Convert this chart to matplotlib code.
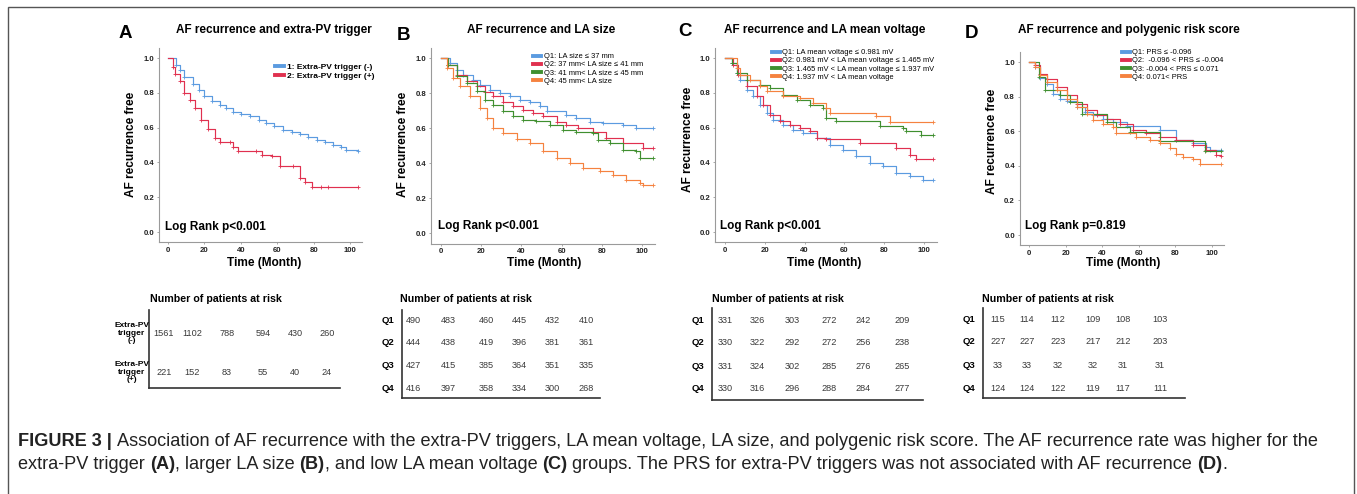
import matplotlib
matplotlib.use("Agg")
import matplotlib.pyplot as plt
from matplotlib import font_manager
from matplotlib.lines import Line2D
from matplotlib.patches import Rectangle

plt.rcParams["font.family"] = "Liberation Sans"

W, H = 1357, 494

# ---------------- data ----------------
# A: extra-PV trigger
a_neg_t = [0, 4.6, 6.4, 9, 13.8, 17, 20, 24, 28.4, 32, 35.8, 40, 45, 50, 54, 58, 63, 68, 72.5, 77, 81.7, 86, 90.8, 95, 98, 104.5]
a_neg_s = [1.0, 0.96, 0.93, 0.89, 0.85, 0.815, 0.78, 0.755, 0.73, 0.71, 0.69, 0.678, 0.665, 0.645, 0.626, 0.607, 0.588, 0.575, 0.563, 0.548, 0.53, 0.515, 0.502, 0.488, 0.473, 0.467]
a_pos_t = [0, 3, 4, 6.5, 9, 12, 14.7, 18.3, 22, 25.7, 28.4, 34, 35.8, 38.5, 48.6, 51.4, 56.9, 61.5, 68.8, 72.5, 75.2, 78.9, 84, 88, 104.5]
a_pos_s = [1.0, 0.95, 0.91, 0.87, 0.80, 0.76, 0.71, 0.645, 0.59, 0.54, 0.52, 0.515, 0.49, 0.467, 0.467, 0.444, 0.435, 0.377, 0.377, 0.31, 0.29, 0.259, 0.259, 0.259, 0.259]

# B: LA size quartiles
b_q1_t = [0, 4.5, 7.8, 11.1, 16.1, 19.4, 24.3, 29.3, 34.3, 39.2, 44.2, 49.2, 52.5, 62.4, 67.4, 74, 80.6, 90.6, 97.2, 105.5]
b_q1_s = [1.0, 0.971, 0.933, 0.905, 0.876, 0.848, 0.819, 0.8, 0.781, 0.762, 0.749, 0.724, 0.695, 0.676, 0.657, 0.634, 0.629, 0.619, 0.6, 0.6]
b_q2_t = [0, 3.6, 7.8, 12.7, 17.7, 21.9, 26, 31, 36, 40.9, 45.9, 50.8, 57.5, 62.4, 68.2, 75.7, 82.3, 90.6, 100.5, 105.5]
b_q2_s = [1.0, 0.962, 0.905, 0.867, 0.838, 0.806, 0.781, 0.749, 0.724, 0.705, 0.686, 0.667, 0.634, 0.619, 0.6, 0.577, 0.543, 0.514, 0.486, 0.486]
b_q3_t = [0, 3.6, 7.8, 12.7, 17.7, 21.9, 26, 31, 36, 40.9, 47.5, 54, 60.8, 67.4, 75.7, 78, 84, 90.6, 97, 98.8, 105.5]
b_q3_s = [1.0, 0.962, 0.9, 0.857, 0.813, 0.762, 0.73, 0.695, 0.667, 0.648, 0.638, 0.619, 0.59, 0.577, 0.571, 0.533, 0.514, 0.476, 0.467, 0.429, 0.429]
b_q4_t = [0, 2.8, 6, 9.4, 14.4, 19.4, 22.7, 26, 31, 37.6, 44.2, 50.8, 57.5, 64, 70.7, 79, 85.6, 92.2, 98.8, 100.5, 105.5]
b_q4_s = [1.0, 0.943, 0.886, 0.838, 0.781, 0.714, 0.657, 0.6, 0.571, 0.539, 0.514, 0.467, 0.429, 0.4, 0.371, 0.352, 0.333, 0.305, 0.286, 0.272, 0.272]

# C: LA mean voltage quartiles
c_q1_t = [0, 3.3, 5.9, 7.5, 10.9, 14.2, 17.6, 20.9, 24.2, 29.3, 34.3, 39.3, 46, 52.7, 59.4, 66, 72.7, 79.4, 86.1, 92.8, 99.5, 104.5]
c_q1_s = [1.0, 0.971, 0.914, 0.875, 0.818, 0.78, 0.732, 0.684, 0.646, 0.617, 0.588, 0.569, 0.54, 0.502, 0.473, 0.435, 0.397, 0.377, 0.339, 0.32, 0.301, 0.301]
c_q2_t = [0, 4.2, 6.7, 10.9, 15.9, 19.2, 22.6, 27.6, 32.6, 37.6, 42.6, 46, 51, 67.7, 86.1, 92.8, 96.2, 104.5]
c_q2_s = [1.0, 0.962, 0.904, 0.837, 0.78, 0.732, 0.674, 0.636, 0.617, 0.598, 0.579, 0.54, 0.536, 0.511, 0.483, 0.444, 0.421, 0.421]
c_q3_t = [0, 3.3, 5.9, 10.9, 17.6, 22.6, 29.3, 36, 42.6, 49.3, 51, 56, 77.8, 89.5, 91.1, 98.7, 104.5]
c_q3_s = [1.0, 0.971, 0.914, 0.875, 0.847, 0.828, 0.789, 0.761, 0.732, 0.713, 0.655, 0.636, 0.607, 0.598, 0.579, 0.556, 0.556]
c_q4_t = [0, 5.9, 7.5, 12.5, 17.6, 20.9, 29.3, 37.6, 44.3, 51, 52.7, 76, 82.8, 104.5]
c_q4_s = [1.0, 0.943, 0.904, 0.875, 0.837, 0.808, 0.78, 0.77, 0.741, 0.713, 0.684, 0.665, 0.632, 0.632]

# D: polygenic risk score quartiles
d_q1_t = [0, 3.3, 6, 9.6, 13.3, 16.9, 20.5, 26, 30.5, 35, 40.5, 46, 53.3, 71.5, 80.5, 89.6, 96.9, 98.7, 105]
d_q1_s = [1.0, 0.971, 0.908, 0.875, 0.817, 0.788, 0.773, 0.74, 0.712, 0.692, 0.673, 0.654, 0.631, 0.606, 0.548, 0.529, 0.51, 0.49, 0.49]
d_q2_t = [0, 3.3, 6, 9.6, 15.1, 20.5, 26, 31.5, 36.9, 42.4, 49.6, 56.9, 64.2, 71.5, 80.5, 89.6, 96.9, 102, 105]
d_q2_s = [1.0, 0.98, 0.933, 0.904, 0.856, 0.808, 0.76, 0.721, 0.692, 0.673, 0.644, 0.606, 0.587, 0.567, 0.548, 0.519, 0.49, 0.462, 0.458]
d_q3_t = [0, 5.5, 8.7, 16.9, 22.4, 28.7, 42.4, 47.8, 55, 71.5, 96, 105]
d_q3_s = [1.0, 0.913, 0.837, 0.808, 0.77, 0.702, 0.654, 0.625, 0.596, 0.542, 0.485, 0.485]
d_q4_t = [0, 3.3, 6, 9.6, 15.1, 20.5, 26, 31.5, 35, 40.5, 46, 47.8, 58.7, 66, 71.5, 77, 80.5, 84, 89.6, 93.3, 105]
d_q4_s = [1.0, 0.971, 0.923, 0.885, 0.837, 0.788, 0.74, 0.702, 0.663, 0.644, 0.625, 0.587, 0.567, 0.548, 0.529, 0.5, 0.471, 0.452, 0.442, 0.413, 0.413]

labels_a = ["1: Extra-PV trigger (-)", "2: Extra-PV trigger (+)"]
labels_b = ["Q1: LA size \u2264 37 mm", "Q2: 37 mm< LA size \u2264 41 mm",
            "Q3: 41 mm< LA size \u2264 45 mm", "Q4: 45 mm< LA size"]
labels_c = ["Q1: LA mean voltage \u2264 0.981 mV", "Q2: 0.981 mV < LA mean voltage \u2264 1.465 mV",
            "Q3: 1.465 mV < LA mean voltage \u2264 1.937 mV", "Q4: 1.937 mV < LA mean voltage"]
labels_d = ["Q1: PRS \u2264 -0.096", "Q2:  -0.096 < PRS \u2264 -0.004",
            "Q3: -0.004 < PRS \u2264 0.071", "Q4: 0.071< PRS"]

titles = ["AF recurrence and extra-PV trigger", "AF recurrence and LA size",
          "AF recurrence and LA mean voltage", "AF recurrence and polygenic risk score"]
pvalues = ["Log Rank p<0.001", "Log Rank p<0.001", "Log Rank p<0.001", "Log Rank p=0.819"]

x_ticks = [0, 20, 40, 60, 80, 100]
y_ticks = [0.0, 0.2, 0.4, 0.6, 0.8, 1.0]

risk_rows_a = ["Extra-PV\ntrigger\n(-)", "Extra-PV\ntrigger\n(+)"]
risk_rows_q = ["Q1", "Q2", "Q3", "Q4"]
risk_a = [[1561, 1102, 788, 594, 430, 260],
          [221, 152, 83, 55, 40, 24]]
risk_b = [[490, 483, 460, 445, 432, 410],
          [444, 438, 419, 396, 381, 361],
          [427, 415, 385, 364, 351, 335],
          [416, 397, 358, 334, 300, 268]]
risk_c = [[331, 326, 303, 272, 242, 209],
          [330, 322, 292, 272, 256, 238],
          [331, 324, 302, 285, 276, 265],
          [330, 316, 296, 288, 284, 277]]
risk_d = [[115, 114, 112, 109, 108, 103],
          [227, 227, 223, 217, 212, 203],
          [33, 33, 32, 32, 31, 31],
          [124, 124, 122, 119, 117, 111]]

BLUE = "#5B9BE0"
RED = "#E0304F"
GREEN = "#3F8F2F"
ORANGE = "#F5823F"

fig = plt.figure(figsize=(W / 100, H / 100), dpi=100)
renderer = fig.canvas.get_renderer()


def fx(px):
    return px / W


def fy(py):
    return 1 - py / H


def km_axes(x0, x100, y1, y0):
    # axes box from the pixel positions of month 0 / 100 and survival 1.0 / 0.0
    sx = (x100 - x0) / 100
    sy = (y0 - y1)
    left = x0 - 5 * sx
    right = x0 + 106.5 * sx
    top = y0 - 1.06 * sy
    bottom = y0 + 0.06 * sy
    ax = fig.add_axes([fx(left), fy(bottom), (right - left) / W, (bottom - top) / H])
    ax.set_xlim(-5, 106.5)
    ax.set_ylim(-0.06, 1.06)
    for side in ["top", "right"]:
        ax.spines[side].set_visible(False)
    for side in ["left", "bottom"]:
        ax.spines[side].set_color("#9a9a9a")
        ax.spines[side].set_linewidth(0.8)
    ax.set_xticks(x_ticks)
    ax.set_xticklabels([str(v) for v in x_ticks], fontsize=5.6, fontweight="bold", color="#222")
    ax.set_yticks(y_ticks)
    ax.set_yticklabels([f"{v:.1f}" for v in y_ticks], fontsize=5.6, fontweight="bold", color="#222")
    ax.tick_params(length=1.5, width=0.6, color="#9a9a9a", pad=2)
    return ax


def draw_curve(ax, t, s, color):
    ax.step(t, s, where="post", color=color, lw=0.85)
    ax.plot(t[1:], s[1:], "+", color=color, ms=3.2, mew=0.6)


def risk_table(box, cols, rows, label_x, row_labels, values, title_xy, label_size):
    left, top, right, bottom = box
    ax = fig.add_axes([fx(left), fy(bottom), (right - left) / W, (bottom - top) / H])
    ax.set_xlim(left, right)
    ax.set_ylim(bottom, top)
    ax.set_xticks([])
    ax.set_yticks([])
    ax.patch.set_alpha(0)
    for side in ["top", "right"]:
        ax.spines[side].set_visible(False)
    for side in ["left", "bottom"]:
        ax.spines[side].set_color("#333")
        ax.spines[side].set_linewidth(1.2)
    for i, row in enumerate(values):
        ax.text(label_x, rows[i], row_labels[i], ha="center", va="center", fontsize=label_size,
                fontweight="bold", linespacing=1.05, clip_on=False)
        for j, v in enumerate(row):
            ax.text(cols[j], rows[i], str(v), ha="center", va="center", fontsize=6.6, color="#3a3a3a")
    fig.text(fx(title_xy[0]), fy(title_xy[1]), "Number of patients at risk", ha="left", va="center",
             fontsize=7.7, fontweight="bold")


def panel(letter, letter_xy, title, title_xy, mapping, curves, labels, leg_xy, leg_size, leg_weight,
          pval, p_xy, ylab_xy, xlab_xy):
    ax = km_axes(*mapping)
    handles = []
    for (t, s, c) in curves:
        draw_curve(ax, t, s, c)
        handles.append(Line2D([], [], color=c, lw=2.8))
    ax.legend(handles, labels, loc="upper left", bbox_to_anchor=(fx(leg_xy[0]), fy(leg_xy[1])),
              bbox_transform=fig.transFigure, frameon=False, handlelength=1.1, handletextpad=0.3,
              labelspacing=0.12, borderpad=0, borderaxespad=0,
              prop={"size": leg_size, "weight": leg_weight})
    fig.text(fx(letter_xy[0]), fy(letter_xy[1]), letter, ha="center", va="center", fontsize=13.5,
             fontweight="bold")
    fig.text(fx(title_xy[0]), fy(title_xy[1]), title, ha="center", va="center", fontsize=8.5,
             fontweight="bold")
    fig.text(fx(p_xy[0]), fy(p_xy[1]), pval, ha="left", va="center", fontsize=8.5, fontweight="bold")
    fig.text(fx(ylab_xy[0]), fy(ylab_xy[1]), "AF recurrence free", rotation=90, ha="center", va="center",
             fontsize=8.6, fontweight="bold")
    fig.text(fx(xlab_xy[0]), fy(xlab_xy[1]), "Time (Month)", ha="center", va="center", fontsize=8.6,
             fontweight="bold")
    return ax


panel("A", (125, 33), titles[0], (274, 30), (168, 350, 58, 232),
      [(a_neg_t, a_neg_s, BLUE), (a_pos_t, a_pos_s, RED)], labels_a, (275, 63), 6.0, "bold",
      pvalues[0], (165, 227), (131, 144), (264, 263))
panel("B", (403, 35), titles[1], (541, 30), (441, 642, 58, 233),
      [(b_q1_t, b_q1_s, BLUE), (b_q2_t, b_q2_s, RED), (b_q3_t, b_q3_s, GREEN), (b_q4_t, b_q4_s, ORANGE)],
      labels_b, (533, 53), 5.4, "normal", pvalues[1], (438, 226), (403, 144), (544, 263))
panel("C", (685, 32), titles[2], (825, 30), (725, 924, 58, 232),
      [(c_q1_t, c_q1_s, BLUE), (c_q2_t, c_q2_s, RED), (c_q3_t, c_q3_s, GREEN), (c_q4_t, c_q4_s, ORANGE)],
      labels_c, (772, 49), 5.4, "normal", pvalues[2], (720, 226), (688, 139), (824, 263))
panel("D", (972, 33), titles[3], (1129, 30), (1029, 1212, 62, 235),
      [(d_q1_t, d_q1_s, BLUE), (d_q2_t, d_q2_s, RED), (d_q3_t, d_q3_s, GREEN), (d_q4_t, d_q4_s, ORANGE)],
      labels_d, (1122, 49), 5.4, "normal", pvalues[3], (1025, 226), (992, 141), (1123, 263))

risk_table((149, 310, 340, 388), [164, 192, 227, 263, 295, 327], [333, 372], 132,
           risk_rows_a, risk_a, (150, 299), 6.0)
risk_table((402, 310, 600, 398), [413, 448, 486, 519, 552, 586], [320, 342, 365, 388], 388,
           risk_rows_q, risk_b, (400, 299), 6.8)
risk_table((712, 308, 923, 400), [725, 757, 792, 829, 863, 902], [320, 342, 366, 388], 698,
           risk_rows_q, risk_c, (712, 299), 6.8)
risk_table((983, 308, 1185, 398), [998, 1027, 1058, 1093, 1123, 1160], [319, 342, 365, 388], 969,
           risk_rows_q, risk_d, (982, 299), 6.8)

# ---------------- caption ----------------
narrow = [f.name for f in font_manager.fontManager.ttflist if "Narrow" in f.name or "Condensed" in f.name]
cap_family = "Liberation Sans Narrow" if "Liberation Sans Narrow" in narrow else "Liberation Sans"

caption_1 = [("FIGURE 3 |", "bold"),
             (" Association of AF recurrence with the extra-PV triggers, LA mean voltage, LA size, "
              "and polygenic risk score. The AF recurrence rate was higher for the", "normal")]
caption_2 = [("extra-PV trigger ", "normal"), ("(A)", "bold"), (", larger LA size ", "normal"),
             ("(B)", "bold"), (", and low LA mean voltage ", "normal"), ("(C)", "bold"),
             (" groups. The PRS for extra-PV triggers was not associated with AF recurrence ", "normal"),
             ("(D)", "bold"), (".", "normal")]


def text_w(s, size, weight):
    t = fig.text(0, 0, s, fontsize=size, fontweight=weight, family=cap_family)
    w = t.get_window_extent(renderer).width
    t.remove()
    return w


def advance(s, size, weight):
    return text_w("|" + s + "|", size, weight) - text_w("||", size, weight)


def rich_line(x, y, parts, size):
    for s, weight in parts:
        lead = len(s) - len(s.lstrip(" "))
        x0 = x + (advance(" " * lead, size, weight) if lead else 0)
        fig.text(fx(x0), fy(y), s.strip(" "), fontsize=size, fontweight=weight, family=cap_family,
                 ha="left", va="center", color="#222")
        x += advance(s, size, weight)


base = 10
line_w = sum(advance(s, base, w) for s, w in caption_1)
cap_size = base * 1305 / line_w
rich_line(18, 441, caption_1, cap_size)
rich_line(18, 464, caption_2, cap_size)

# outer frame
fig.add_artist(Rectangle((fx(7.5), fy(500)), (1354 - 7.5) / W, (500 - 7) / H, transform=fig.transFigure,
                         fill=False, edgecolor="#555", lw=1.0, clip_on=False))

fig.savefig("out.png", dpi=100)
